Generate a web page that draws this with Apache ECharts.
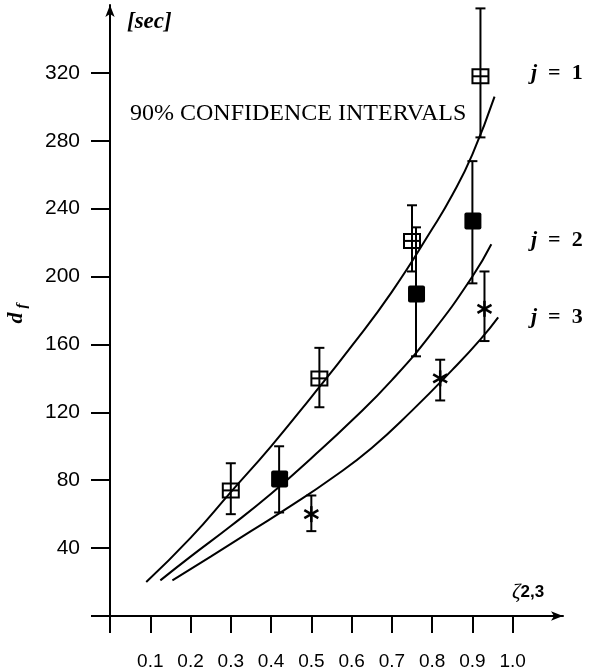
<!DOCTYPE html>
<html>
<head>
<meta charset="utf-8">
<title>90% confidence intervals</title>
<script src="https://cdn.jsdelivr.net/npm/echarts@6/dist/echarts.min.js"></script>
<style>
  html, body { margin: 0; padding: 0; background: #fff; }
  #chart1 { width: 590px; height: 672px; }
</style>
</head>
<body>
<div id="chart1"></div>
<script type="text/javascript">
// axis ticks and labels
var xTicks = [0, 0.1, 0.2, 0.3, 0.4, 0.5, 0.6, 0.7, 0.8, 0.9, 1.0];
var xLabels = [0.1, 0.2, 0.3, 0.4, 0.5, 0.6, 0.7, 0.8, 0.9, 1.0];
var yTicks = [0, 40, 80, 120, 160, 200, 240, 280, 320];
var yLabels = [40, 80, 120, 160, 200, 240, 280, 320];

// measured points with 90% intervals
var j1X = [0.30, 0.52, 0.75, 0.92];
var j1Y = [74, 140, 221, 318];
var j1Lo = [60, 123, 203, 282];
var j1Hi = [90, 158, 242, 358];

var j2X = [0.42, 0.76, 0.90];
var j2Y = [81, 190, 233];
var j2Lo = [61, 153, 196];
var j2Hi = [100, 229, 268];

var j3X = [0.50, 0.82, 0.93];
var j3Y = [60, 140, 181];
var j3Lo = [50, 127, 162];
var j3Hi = [71, 151, 203];

// fitted curves
var curve1X = [0.09, 0.2, 0.3, 0.4, 0.5, 0.6, 0.7, 0.8, 0.85, 0.9, 0.955];
var curve1Y = [20, 46, 73, 100, 129, 159, 191, 228, 248, 272, 306];
var curve2X = [0.125, 0.2, 0.3, 0.4, 0.5, 0.6, 0.7, 0.8, 0.9, 0.947];
var curve2Y = [21, 35, 53, 72, 93, 115, 139, 167, 200, 219];
var curve3X = [0.155, 0.25, 0.35, 0.45, 0.55, 0.65, 0.75, 0.85, 0.92, 0.964];
var curve3Y = [21, 35, 50, 65, 81, 99, 121, 145, 163, 176];

function zip() {
    var cols = arguments, out = [];
    for (var i = 0; i < cols[0].length; i++) {
        var row = [];
        for (var k = 0; k < cols.length; k++) row.push(cols[k][i]);
        out.push(row);
    }
    return out;
}

// error bar + marker drawn with the axis coords
function barItem(kind) {
    return function (params, api) {
        var c = api.coord([api.value(0), api.value(1)]);
        var top = api.coord([api.value(0), api.value(3)]);
        var bot = api.coord([api.value(0), api.value(2)]);
        var st = { stroke: '#000', lineWidth: 2 };
        var kids = [
            { type: 'line', shape: { x1: c[0], y1: top[1], x2: c[0], y2: bot[1] }, style: st },
            { type: 'line', shape: { x1: c[0] - 5, y1: top[1], x2: c[0] + 5, y2: top[1] }, style: st },
            { type: 'line', shape: { x1: c[0] - 5, y1: bot[1], x2: c[0] + 5, y2: bot[1] }, style: st }
        ];
        if (kind === 'open') {
            kids.push({ type: 'rect', shape: { x: c[0] - 8, y: c[1] - 7, width: 16, height: 14 },
                style: { fill: 'none', stroke: '#000', lineWidth: 2 } });
            kids.push({ type: 'line', shape: { x1: c[0] - 8, y1: c[1], x2: c[0] + 8, y2: c[1] }, style: st });
        } else if (kind === 'filled') {
            kids.push({ type: 'rect', shape: { x: c[0] - 8, y: c[1] - 8, width: 17, height: 17, r: 2 },
                style: { fill: '#000' } });
        } else {
            var a = 7, b = 4, st2 = { stroke: '#000', lineWidth: 2.5 };
            kids.push({ type: 'line', shape: { x1: c[0] - a, y1: c[1] - b, x2: c[0] + a, y2: c[1] + b }, style: st2 });
            kids.push({ type: 'line', shape: { x1: c[0] - a, y1: c[1] + b, x2: c[0] + a, y2: c[1] - b }, style: st2 });
            kids.push({ type: 'line', shape: { x1: c[0], y1: c[1] - 8, x2: c[0], y2: c[1] + 8 }, style: st2 });
        }
        return { type: 'group', children: kids };
    };
}

function curve(xs, ys) {
    return {
        type: 'line', data: zip(xs, ys), smooth: 0.5, showSymbol: false, silent: true,
        lineStyle: { color: '#000', width: 2 }
    };
}

function bars(xs, ys, lo, hi, kind) {
    return {
        type: 'custom', data: zip(xs, ys, lo, hi), renderItem: barItem(kind), clip: false,
        encode: { x: 0, y: 1 }, silent: true
    };
}

var serif = 'Liberation Serif';
var myChart1 = echarts.init(document.getElementById('chart1'));
myChart1.setOption({
    animation: false,
    backgroundColor: '#fff',
    grid: { left: 110, top: 5, width: 453, height: 611 },
    xAxis: {
        type: 'value', min: 0, max: 1.125,
        splitLine: { show: false },
        axisLine: { onZero: false, symbol: ['none', 'arrow'], symbolSize: [7, 12], lineStyle: { color: '#000', width: 2 } },
        axisTick: { inside: false, length: 17, customValues: xTicks, lineStyle: { color: '#000', width: 2 } },
        axisLabel: {
            customValues: xLabels, margin: 36, color: '#000', fontSize: 19, fontFamily: 'Liberation Sans',
            formatter: function (v) { return v.toFixed(1); }
        }
    },
    yAxis: {
        type: 'value', min: 0, max: 360,
        splitLine: { show: false },
        axisLine: { onZero: false, symbol: ['none', 'arrow'], symbolSize: [7, 12], lineStyle: { color: '#000', width: 2 } },
        axisTick: { inside: false, length: 19, customValues: yTicks, lineStyle: { color: '#000', width: 2 } },
        axisLabel: { customValues: yLabels, margin: 30, color: '#000', fontSize: 21, fontFamily: 'Liberation Sans' }
    },
    series: [
        curve(curve1X, curve1Y),
        curve(curve2X, curve2Y),
        curve(curve3X, curve3Y),
        bars(j1X, j1Y, j1Lo, j1Hi, 'open'),
        bars(j2X, j2Y, j2Lo, j2Hi, 'filled'),
        bars(j3X, j3Y, j3Lo, j3Hi, 'star')
    ],
    graphic: [
        { type: 'text', x: 127, y: 22, style: { text: '[sec]', font: 'italic bold 23px ' + serif, fill: '#000', verticalAlign: 'middle' } },
        { type: 'text', x: 130, y: 114, style: { text: '90% CONFIDENCE INTERVALS', font: '24px ' + serif, fill: '#000', verticalAlign: 'middle' } },
        { type: 'text', x: 531, y: 73, style: { text: '{j|j}  =  1', font: 'bold 22px ' + serif, fill: '#000', verticalAlign: 'middle',
            rich: { j: { font: 'italic bold 22px ' + serif } } } },
        { type: 'text', x: 531, y: 240, style: { text: '{j|j}  =  2', font: 'bold 22px ' + serif, fill: '#000', verticalAlign: 'middle',
            rich: { j: { font: 'italic bold 22px ' + serif } } } },
        { type: 'text', x: 531, y: 317, style: { text: '{j|j}  =  3', font: 'bold 22px ' + serif, fill: '#000', verticalAlign: 'middle',
            rich: { j: { font: 'italic bold 22px ' + serif } } } },
        { type: 'text', x: 16, y: 318, rotation: Math.PI / 2, style: { text: 'd', font: 'italic bold 22px ' + serif, fill: '#000', align: 'center', verticalAlign: 'middle' } },
        { type: 'text', x: 22, y: 306, rotation: Math.PI / 2, style: { text: 'f', font: 'italic bold 15px ' + serif, fill: '#000', align: 'center', verticalAlign: 'middle' } },
        { type: 'text', x: 512, y: 592, style: { text: '{z|ζ}{s|2,3}', fill: '#000', verticalAlign: 'middle',
            rich: { z: { font: 'italic 21px ' + serif }, s: { font: 'bold 17px Liberation Sans' } } } }
    ]
});
</script>
</body>
</html>
